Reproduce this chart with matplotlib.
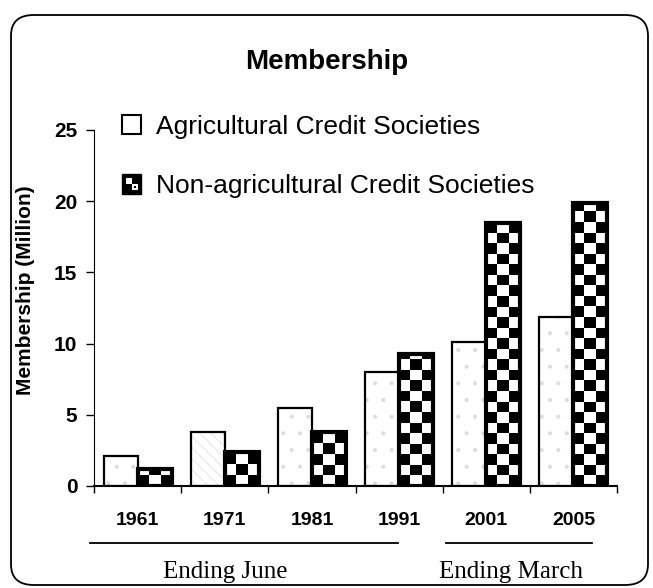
import numpy as np
import matplotlib
matplotlib.use('Agg')
import matplotlib.pyplot as plt
from matplotlib.patches import Rectangle, FancyBboxPatch, Patch
from matplotlib.legend_handler import HandlerBase
import matplotlib.transforms as mtransforms
from matplotlib.lines import Line2D

# ---------------- data ----------------
years = ['1961', '1971', '1981', '1991', '2001', '2005']
agricultural = [2.1, 3.8, 5.5, 8.0, 10.1, 11.9]
non_agricultural = [1.2, 2.4, 3.8, 9.3, 18.5, 19.9]
series_labels = ['Agricultural Credit Societies', 'Non-agricultural Credit Societies']
yticks = [0, 5, 10, 15, 20, 25]
period_labels = ['Ending June', 'Ending March']

plt.rcParams['font.family'] = ['Liberation Sans', 'DejaVu Sans']

fig = plt.figure(figsize=(6.53, 5.88), dpi=100)

# rounded frame around the whole figure
frame = FancyBboxPatch((11 / 653, 3 / 588), 637 / 653, 570 / 588,
                       boxstyle='round,pad=0,rounding_size=0.035',
                       transform=fig.transFigure, facecolor='none',
                       edgecolor='black', linewidth=1.3)
fig.patches.append(frame)

ax = fig.add_axes([0.144, 0.1735, 0.801, 0.6055])
x = np.arange(len(years))
w = 0.39

# agricultural bars: white with faint stipple
hatches = ['.', '\\\\\\', '.', '.', '.', '.']
plt.rcParams['hatch.linewidth'] = 0.5
b1 = ax.bar(x - w, agricultural, w, align='edge', facecolor='white',
            edgecolor='#dddddd', linewidth=0, zorder=1)
for r, h in zip(b1, hatches):
    r.set_hatch(h)
ax.bar(x - w, agricultural, w, align='edge', fill=False,
       edgecolor='black', linewidth=1.6, zorder=3)

# non-agricultural bars: checkerboard
b2 = ax.bar(x, non_agricultural, w, align='edge', facecolor='white',
            edgecolor='none', linewidth=0, zorder=1)
cell_h = 0.74
ncol = 3
for r in b2:
    x0, hgt = r.get_x(), r.get_height()
    nrow = int(np.ceil(hgt / cell_h))
    grid = np.add.outer(np.arange(nrow), np.arange(ncol)) % 2
    im = ax.imshow(grid, cmap='gray', vmin=0, vmax=1, origin='lower',
                   extent=(x0, x0 + w, 0, nrow * cell_h),
                   interpolation='nearest', aspect='auto', zorder=2)
    im.set_clip_path(r)
ax.bar(x, non_agricultural, w, align='edge', fill=False,
       edgecolor='black', linewidth=3, zorder=3)

ax.set_xlim(-0.5, len(years) - 0.5)
ax.set_ylim(0, 25)

for s in ['top', 'right']:
    ax.spines[s].set_visible(False)
ax.spines['left'].set_linewidth(0.8)
ax.spines['bottom'].set_linewidth(1.5)

ax.set_yticks(yticks)
ax.tick_params(axis='y', direction='out', length=6, width=1, pad=6, labelsize=15)
for lab in ax.get_yticklabels():
    lab.set_fontweight('bold')

ax.set_xticks(np.arange(len(years) + 1) - 0.5)
ax.set_xticklabels([])
ax.set_xticks(x, minor=True)
ax.set_xticklabels(years, minor=True, fontweight='bold', fontsize=14)
ax.tick_params(axis='x', which='major', direction='out', length=5, width=1)
ax.tick_params(axis='x', which='minor', length=0, pad=19)

ax.set_ylabel('Membership (Million)', fontweight='bold', fontsize=15)
ax.yaxis.set_label_coords(-0.112, 0.55)

fig.text(327 / 653, 1 - 62 / 588, 'Membership', ha='center', va='center',
         fontsize=20, fontweight='bold')

# period annotations below the axis
trans = mtransforms.blended_transform_factory(ax.transData, ax.transAxes)
period_lines = [(-0.55, 2.99), (3.54, 5.21)]
period_text_x = [1.01, 4.28]
for (xa, xb), tx, lab in zip(period_lines, period_text_x, period_labels):
    ax.add_line(Line2D([xa, xb], [-0.16, -0.16], transform=trans, color='black',
                       linewidth=1.3, clip_on=False))
    ax.text(tx, -0.242, lab, transform=trans, ha='center', va='center',
            fontsize=18, family=['Liberation Serif', 'DejaVu Serif'])


class CheckerHandler(HandlerBase):
    def create_artists(self, legend, orig_handle, xdescent, ydescent,
                       width, height, fontsize, trans):
        s = min(width, height)
        x0, y0 = -xdescent, -ydescent
        outer = Rectangle((x0, y0), s, s, facecolor='black', edgecolor='black',
                          linewidth=1, transform=trans)
        m = s * 0.18
        q = (s - 2 * m) / 2
        a1 = Rectangle((x0 + m, y0 + m + q), q, q, facecolor='white',
                       edgecolor='none', transform=trans)
        a2 = Rectangle((x0 + m + q, y0 + m), q, q, facecolor='white',
                       edgecolor='none', transform=trans)
        a3 = Rectangle((x0 + m + q * 1.3, y0 + m + q * 0.3), q * 0.4, q * 0.4,
                       facecolor='black', edgecolor='none', transform=trans)
        return [outer, a1, a2, a3]


class SquareHandler(HandlerBase):
    def create_artists(self, legend, orig_handle, xdescent, ydescent,
                       width, height, fontsize, trans):
        s = min(width, height)
        r = Rectangle((-xdescent, -ydescent), s, s, facecolor='white',
                      edgecolor='black', linewidth=1.5, transform=trans)
        return [r]


h1 = Patch(facecolor='white', edgecolor='black')
h2 = Patch(facecolor='black', edgecolor='black')
fig.legend([h1, h2], series_labels, loc='upper left',
           bbox_to_anchor=(0.187, 0.805), frameon=False, fontsize=19,
           handlelength=0.75, handleheight=0.75, handletextpad=0.55,
           labelspacing=1.35, borderpad=0, borderaxespad=0,
           handler_map={h1: SquareHandler(), h2: CheckerHandler()})

fig.savefig('out.png', dpi=100)
